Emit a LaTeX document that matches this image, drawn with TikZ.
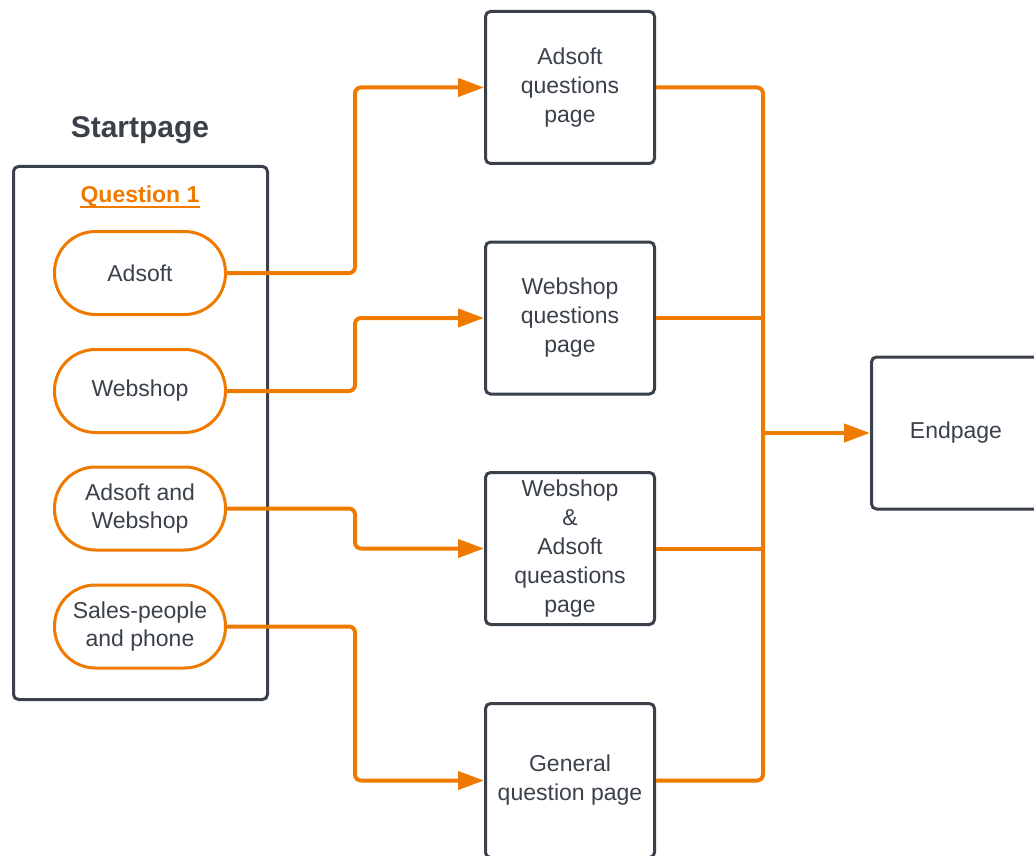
\documentclass[tikz,border=0pt]{standalone}
\usepackage{fontspec}
\setmainfont{Liberation Sans}
\usetikzlibrary{arrows.meta,calc}
\definecolor{ink}{RGB}{58,65,74}
\definecolor{accent}{RGB}{239,122,0}

\begin{document}
\begin{tikzpicture}[x=1pt,y=-1pt,
  page/.style={draw=ink, line width=3pt, rounded corners=5pt, minimum width=169pt,
    minimum height=152pt, inner sep=0pt, align=center, text=ink,
    font=\fontsize{23}{29}\selectfont},
  choice/.style={draw=accent, line width=3pt, rounded corners=41pt, minimum width=171pt,
    minimum height=83pt, inner sep=0pt, align=center, text=ink,
    font=\fontsize{23}{28.5}\selectfont},
  flow/.style={draw=accent, line width=4pt, rounded corners=6pt},
  tip/.style={-{Triangle[length=26pt,width=18pt]}}
]
\useasboundingbox (0,0) rectangle (1034,856);

% start page with its first question
\node[font=\bfseries\fontsize{30}{36}\selectfont, text=ink, anchor=base] (title) at (140,138) {Startpage};
\node[draw=ink, line width=3pt, rounded corners=5pt, minimum width=254pt, minimum height=533pt,
  inner sep=0pt] (startbox) at (140.5,433) {};
\node[font=\bfseries\fontsize{23}{28}\selectfont, text=accent, anchor=base, inner sep=0pt] (qlabel) at (140,203) {Question 1};
\draw[accent, line width=1.6pt] ($(qlabel.base west)+(0,4)$) -- ($(qlabel.base east)+(0,4)$);

\node[choice] (c1) at (140,273) {Adsoft};
\node[choice] (c2) at (140,391) {Webshop};
\node[choice] (c3) at (140,508.5) {Adsoft and\\Webshop};
\node[choice] (c4) at (140,626.5) {Sales-people\\and phone};

% question pages
\node[page] (p1) at (570,87.5) {Adsoft\\questions\\page};
\node[page] (p2) at (570,318) {Webshop\\questions\\page};
\node[page] (p3) at (570,548.5) {Webshop\\\&\\Adsoft\\queastions\\page};
\node[page, minimum height=154pt] (p4) at (570,780.5) {General\\question page};

% end page
\node[page] (endp) at (956,433) {Endpage};

% routing from answers to question pages
\coordinate (lbus) at (355,0);
\draw[flow,tip] (c1.east) -- (c1.east -| lbus) |- (p1.west);
\draw[flow,tip] (c2.east) -- (c2.east -| lbus) |- (p2.west);
\draw[flow,tip] (c3.east) -- (c3.east -| lbus) |- (p3.west);
\draw[flow,tip] (c4.east) -- (c4.east -| lbus) |- (p4.west);

% collecting bus into the end page
\coordinate (join) at (763,433);
\draw[flow] (p1.east) -| (join);
\draw[flow] (p4.east) -| (join);
\draw[flow] (p2.east) -- (p2.east -| join);
\draw[flow] (p3.east) -- (p3.east -| join);
\draw[flow,tip] (join) -- (endp.west);
\end{tikzpicture}
\end{document}
